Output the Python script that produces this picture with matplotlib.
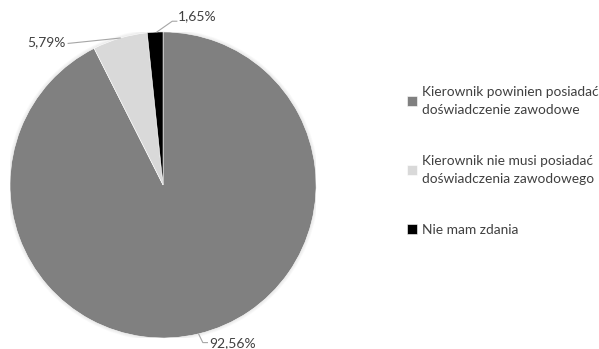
import matplotlib.pyplot as plt
from matplotlib.patches import Circle

labels = [
    "Kierownik powinien posiadać\ndoświadczenie zawodowe",
    "Kierownik nie musi posiadać\ndoświadczenia zawodowego",
    "Nie mam zdania",
]
shares = [92.56, 5.79, 1.65]
colors = ["#808080", "#d9d9d9", "#000000"]
pct_text = ["92,56%", "5,79%", "1,65%"]

plt.rcParams["font.family"] = ["Lato", "DejaVu Sans"]
text_color = "#404040"

fig = plt.figure(figsize=(5.99, 3.49), dpi=100)
ax = fig.add_axes([0.0167, 0.0315, 0.511, 0.877])

# soft halo round the pie
for k in range(4):
    ax.add_patch(Circle((0, 0), 1.0 + 0.005 * (k + 1), color="black",
                        alpha=0.02, lw=0, zorder=0))

wedges, _ = ax.pie(shares, colors=colors, startangle=90, counterclock=False,
                   radius=1.0, wedgeprops=dict(linewidth=0.4, edgecolor="white"))
ax.set_xlim(-1, 1)
ax.set_ylim(-1, 1)
ax.set_aspect("equal")
ax.axis("off")

# leader lines and percentage labels
leaders = [
    ([0.232, 0.26, 0.29], [-0.973, -1.03, -1.03]),
    ([-0.28, -0.62], [0.96, 0.925]),
    ([-0.04, 0.06, 0.09], [1.0, 1.07, 1.07]),
]
label_pos = [(0.30, -1.035, "left"), (-0.635, 0.935, "right"), (0.095, 1.105, "left")]
for (xs, ys), (tx, ty, ha), txt in zip(leaders, label_pos, pct_text):
    ax.plot(xs, ys, color="#a6a6a6", lw=0.8, clip_on=False)
    ax.text(tx, ty, txt, ha=ha, va="center", fontsize=10, color=text_color,
            clip_on=False)

leg = fig.legend(wedges, labels, loc="upper left", bbox_to_anchor=(0.659, 0.79),
                 frameon=False, fontsize=9.9, handlelength=0.7, handleheight=0.7,
                 handletextpad=0.35, labelspacing=2.85, labelcolor=text_color)
for t in leg.get_texts():
    t.set_linespacing(1.6)

fig.savefig("out.png", dpi=100)
